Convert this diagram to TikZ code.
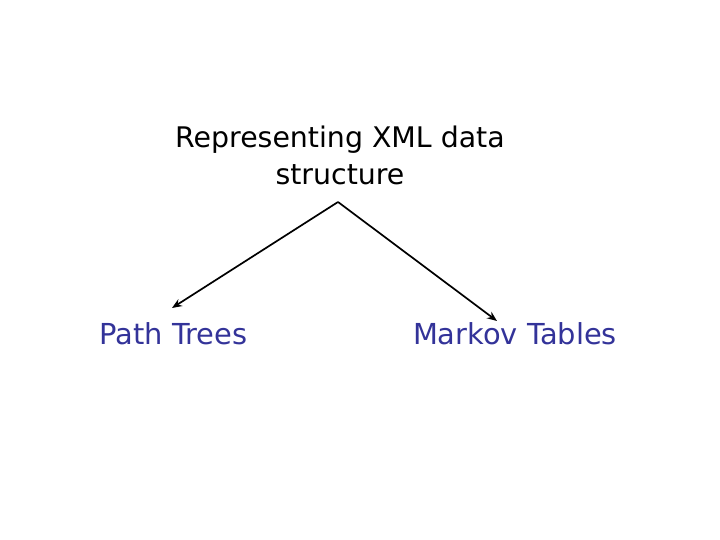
\documentclass[tikz,border=0pt]{standalone}
\usepackage{fontspec}
\setmainfont{DejaVu Sans}
\usetikzlibrary{arrows.meta,positioning}
\definecolor{leafblue}{RGB}{51,51,153}

\begin{document}
\begin{tikzpicture}[
  x=1bp, y=1bp,
  %--- text styles ---
  head/.style={align=center, font=\fontsize{28.5}{37}\selectfont, text=black, inner sep=0pt},
  leaf/.style={font=\fontsize{29}{35}\selectfont, text=leafblue, inner sep=0pt, anchor=base},
  %--- arrows ---
  arr/.style={-{Stealth[length=10pt,width=8pt]}, line width=1.7bp, draw=black}
]

%% frame of the slide
\path[use as bounding box] (0,0) rectangle (720,540);

%% nodes
\node[head] (title) at (340,385) {Representing XML data\\structure};
\node[leaf] (path) at (173.5,195) {Path Trees};
\node[leaf] (markov) at (515,195) {Markov Tables};

%% arrow end points
\coordinate (apex) at (338,338);
\coordinate (pathtip) at (172,232);
\coordinate (markovtip) at (497,219);

%% arrows
\draw[arr] (apex) -- (pathtip);
\draw[arr] (apex) -- (markovtip);
\end{tikzpicture}
\end{document}
